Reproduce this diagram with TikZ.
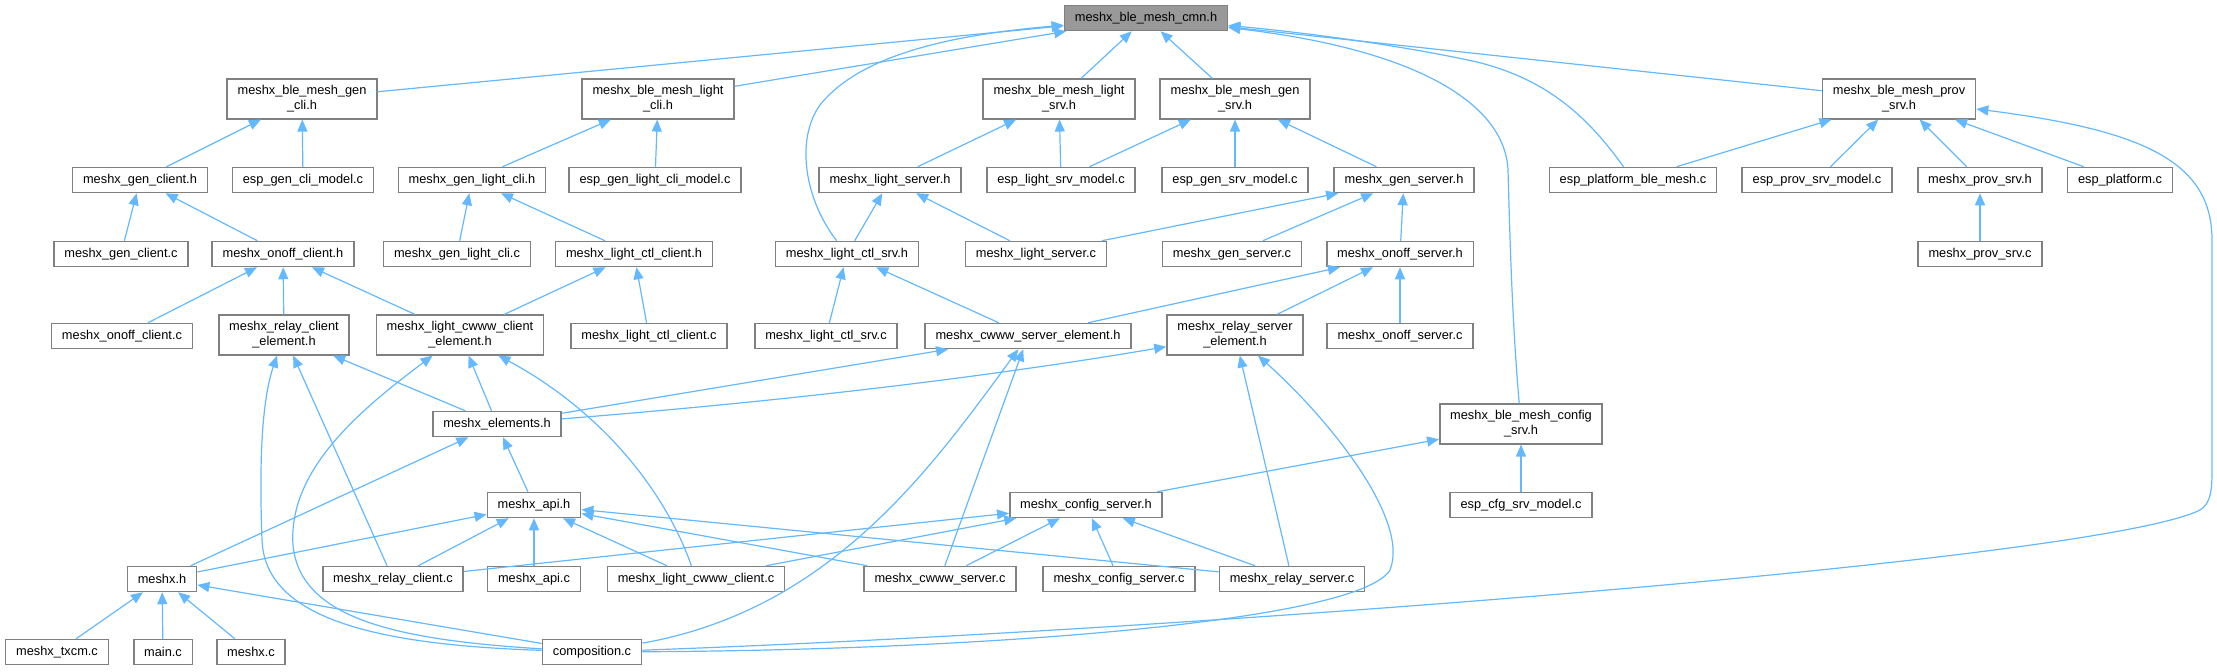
\documentclass[tikz,border=0pt]{standalone}
\usepackage{fontspec}
\setmainfont{Liberation Sans}
\usetikzlibrary{arrows.meta}

\definecolor{edgeblue}{HTML}{63B8FF}
\definecolor{boxline}{HTML}{808080}
\definecolor{rootfill}{HTML}{999999}

\begin{document}
\begin{tikzpicture}[
  x=0.5pt, y=-0.5pt,
  font=\fontsize{6.4}{7.5}\selectfont,
  >={Triangle[length=6pt, width=5pt]},
  file/.style={draw=boxline, line width=0.75pt, fill=white, align=center,
               inner xsep=5.2pt, inner ysep=3.2pt, minimum height=12.5pt},
  root/.style={file, fill=rootfill},
  edge/.style={->, draw=edgeblue, line width=0.6pt},
]
\useasboundingbox (0,0) rectangle (2217,671);

% ================= files =================
\node[root] (cmn) at (1146,18) {meshx\_ble\_mesh\_cmn.h};

\node[file] (gencli)   at (302,99)  {meshx\_ble\_mesh\_gen\\\_cli.h};
\node[file] (lightcli) at (658,99)  {meshx\_ble\_mesh\_light\\\_cli.h};
\node[file] (lightsrv) at (1059,99) {meshx\_ble\_mesh\_light\\\_srv.h};
\node[file] (gensrv)   at (1235,99) {meshx\_ble\_mesh\_gen\\\_srv.h};
\node[file] (provsrv)  at (1899,99) {meshx\_ble\_mesh\_prov\\\_srv.h};

\node[file] (genclih)     at (140,180)  {meshx\_gen\_client.h};
\node[file] (espgencli)   at (303,180)  {esp\_gen\_cli\_model.c};
\node[file] (glightclih)  at (472,180)  {meshx\_gen\_light\_cli.h};
\node[file] (esplightcli) at (655,180)  {esp\_gen\_light\_cli\_model.c};
\node[file] (lightsrvh)   at (890,180)  {meshx\_light\_server.h};
\node[file] (esplightsrv) at (1061,180) {esp\_light\_srv\_model.c};
\node[file] (espgensrv)   at (1235,180) {esp\_gen\_srv\_model.c};
\node[file] (gensrvh)     at (1404,180) {meshx\_gen\_server.h};
\node[file] (espplatble)  at (1633,180) {esp\_platform\_ble\_mesh.c};
\node[file] (espprovsrv)  at (1817,180) {esp\_prov\_srv\_model.c};
\node[file] (provsrvh)    at (1980,180) {meshx\_prov\_srv.h};
\node[file] (espplat)     at (2120,180) {esp\_platform.c};

\node[file] (genclic)    at (121,254)  {meshx\_gen\_client.c};
\node[file] (onoffclih)  at (283,254)  {meshx\_onoff\_client.h};
\node[file] (glightclic) at (457,254)  {meshx\_gen\_light\_cli.c};
\node[file] (lctlclih)   at (634,254)  {meshx\_light\_ctl\_client.h};
\node[file] (lctlsrvh)   at (847,254)  {meshx\_light\_ctl\_srv.h};
\node[file] (lightsrvc)  at (1036,254) {meshx\_light\_server.c};
\node[file] (gensrvc)    at (1232,254) {meshx\_gen\_server.c};
\node[file] (onoffsrvh)  at (1400,254) {meshx\_onoff\_server.h};
\node[file] (provsrvc)   at (1980,254) {meshx\_prov\_srv.c};

\node[file] (onoffclic)  at (122,336)  {meshx\_onoff\_client.c};
\node[file] (relaycliel) at (284,335)  {meshx\_relay\_client\\\_element.h};
\node[file] (cwwwcliel)  at (460,335)  {meshx\_light\_cwww\_client\\\_element.h};
\node[file] (lctlclic)   at (649,336)  {meshx\_light\_ctl\_client.c};
\node[file] (lctlsrvc)   at (826,336)  {meshx\_light\_ctl\_srv.c};
\node[file] (cwwwsrvel)  at (1028,336) {meshx\_cwww\_server\_element.h};
\node[file] (relaysrvel) at (1235,335) {meshx\_relay\_server\\\_element.h};
\node[file] (onoffsrvc)  at (1400,336) {meshx\_onoff\_server.c};

\node[file] (elements) at (497,424)  {meshx\_elements.h};
\node[file] (cfgsrv)   at (1521,424) {meshx\_ble\_mesh\_config\\\_srv.h};

\node[file] (apih)      at (534,505)  {meshx\_api.h};
\node[file] (cfgserveh) at (1086,505) {meshx\_config\_server.h};
\node[file] (espcfgsrv) at (1521,505) {esp\_cfg\_srv\_model.c};

\node[file] (meshxh)    at (162,579)  {meshx.h};
\node[file] (relayclic) at (393,579)  {meshx\_relay\_client.c};
\node[file] (apic)      at (534,579)  {meshx\_api.c};
\node[file] (cwwwclic)  at (696,579)  {meshx\_light\_cwww\_client.c};
\node[file] (cwwwsrvc)  at (940,579)  {meshx\_cwww\_server.c};
\node[file] (cfgservec) at (1119,579) {meshx\_config\_server.c};
\node[file] (relaysrvc) at (1292,579) {meshx\_relay\_server.c};

\node[file] (txcm)   at (57,652)  {meshx\_txcm.c};
\node[file] (mainc)  at (163,652) {main.c};
\node[file] (meshxc) at (251,652) {meshx.c};
\node[file] (comp)   at (592,652) {composition.c};

% ================= includes of the common header =================
\draw[edge] (gencli) -- (cmn);
\draw[edge] (lightcli) -- (cmn);
\draw[edge] (lightsrv) -- (cmn);
\draw[edge] (gensrv) -- (cmn);
\draw[edge] (provsrv) -- (cmn);
\draw[edge] (lctlsrvh) .. controls (805,200) and (795,140) .. (820,105)
                       .. controls (860,55) and (950,35) .. (cmn);
\draw[edge] (espplatble) .. controls (1590,120) and (1550,80) .. (1477,62)
                         .. controls (1400,45) and (1300,32) .. (cmn);
\draw[edge] (cfgsrv) .. controls (1512,320) and (1510,240) .. (1508,170)
                     .. controls (1505,105) and (1420,50) .. (cmn);

% ================= second level =================
\draw[edge] (genclih) -- (gencli);
\draw[edge] (espgencli) -- (gencli);
\draw[edge] (glightclih) -- (lightcli);
\draw[edge] (esplightcli) -- (lightcli);
\draw[edge] (lightsrvh) -- (lightsrv);
\draw[edge] (esplightsrv) -- (lightsrv);
\draw[edge] (esplightsrv) -- (gensrv);
\draw[edge] (espgensrv) -- (gensrv);
\draw[edge] (gensrvh) -- (gensrv);
\draw[edge] (espplatble) -- (provsrv);
\draw[edge] (espprovsrv) -- (provsrv);
\draw[edge] (provsrvh) -- (provsrv);
\draw[edge] (espplat) -- (provsrv);
\draw[edge] (comp) .. controls (1200,630) and (2100,560) .. (2200,510)
                   .. controls (2211,503) and (2212,490) .. (2212,470) -- (2212,240)
                   .. controls (2212,160) and (2140,130) .. (provsrv);

% ================= third level =================
\draw[edge] (genclic) -- (genclih);
\draw[edge] (onoffclih) -- (genclih);
\draw[edge] (glightclic) -- (glightclih);
\draw[edge] (lctlclih) -- (glightclih);
\draw[edge] (lctlsrvh) -- (lightsrvh);
\draw[edge] (lightsrvc) -- (lightsrvh);
\draw[edge] (lightsrvc) -- (gensrvh);
\draw[edge] (gensrvc) -- (gensrvh);
\draw[edge] (onoffsrvh) -- (gensrvh);
\draw[edge] (provsrvc) -- (provsrvh);

% ================= elements =================
\draw[edge] (onoffclic) -- (onoffclih);
\draw[edge] (relaycliel) -- (onoffclih);
\draw[edge] (cwwwcliel) -- (onoffclih);
\draw[edge] (cwwwcliel) -- (lctlclih);
\draw[edge] (lctlclic) -- (lctlclih);
\draw[edge] (lctlsrvc) -- (lctlsrvh);
\draw[edge] (cwwwsrvel) -- (lctlsrvh);
\draw[edge] (cwwwsrvel) -- (onoffsrvh);
\draw[edge] (relaysrvel) -- (onoffsrvh);
\draw[edge] (onoffsrvc) -- (onoffsrvh);

\draw[edge] (elements) -- (relaycliel);
\draw[edge] (elements) -- (cwwwcliel);
\draw[edge] (elements) -- (cwwwsrvel);
\draw[edge] (elements) .. controls (800,400) and (1000,375) .. (relaysrvel);
\draw[edge] (relayclic) -- (relaycliel);
\draw[edge] (cwwwclic) .. controls (665,490) and (600,410) .. (cwwwcliel);
\draw[edge] (cwwwsrvc) -- (cwwwsrvel);
\draw[edge] (relaysrvc) -- (relaysrvel);

% ================= api and config server =================
\draw[edge] (meshxh) -- (elements);
\draw[edge] (apih) -- (elements);
\draw[edge] (cfgserveh) -- (cfgsrv);
\draw[edge] (espcfgsrv) -- (cfgsrv);

\draw[edge] (meshxh) -- (apih);
\draw[edge] (relayclic) -- (apih);
\draw[edge] (apic) -- (apih);
\draw[edge] (cwwwclic) -- (apih);
\draw[edge] (cwwwsrvc) -- (apih);
\draw[edge] (relaysrvc) -- (apih);

\draw[edge] (relayclic) -- (cfgserveh);
\draw[edge] (cwwwclic) -- (cfgserveh);
\draw[edge] (cwwwsrvc) -- (cfgserveh);
\draw[edge] (cfgservec) -- (cfgserveh);
\draw[edge] (relaysrvc) -- (cfgserveh);

% ================= bottom row =================
\draw[edge] (txcm) -- (meshxh);
\draw[edge] (mainc) -- (meshxh);
\draw[edge] (meshxc) -- (meshxh);
\draw[edge] (comp) -- (meshxh);
\draw[edge] (comp) .. controls (380,645) and (265,620) .. (262,540)
                   .. controls (259,460) and (262,400) .. (relaycliel);
\draw[edge] (comp) .. controls (400,640) and (300,620) .. (293,545)
                   .. controls (288,470) and (360,410) .. (cwwwcliel);
\draw[edge] (comp) .. controls (830,610) and (930,470) .. (cwwwsrvel);
\draw[edge] (comp) .. controls (1000,650) and (1360,620) .. (1390,570)
                   .. controls (1410,520) and (1330,420) .. (relaysrvel);

\end{tikzpicture}
\end{document}
